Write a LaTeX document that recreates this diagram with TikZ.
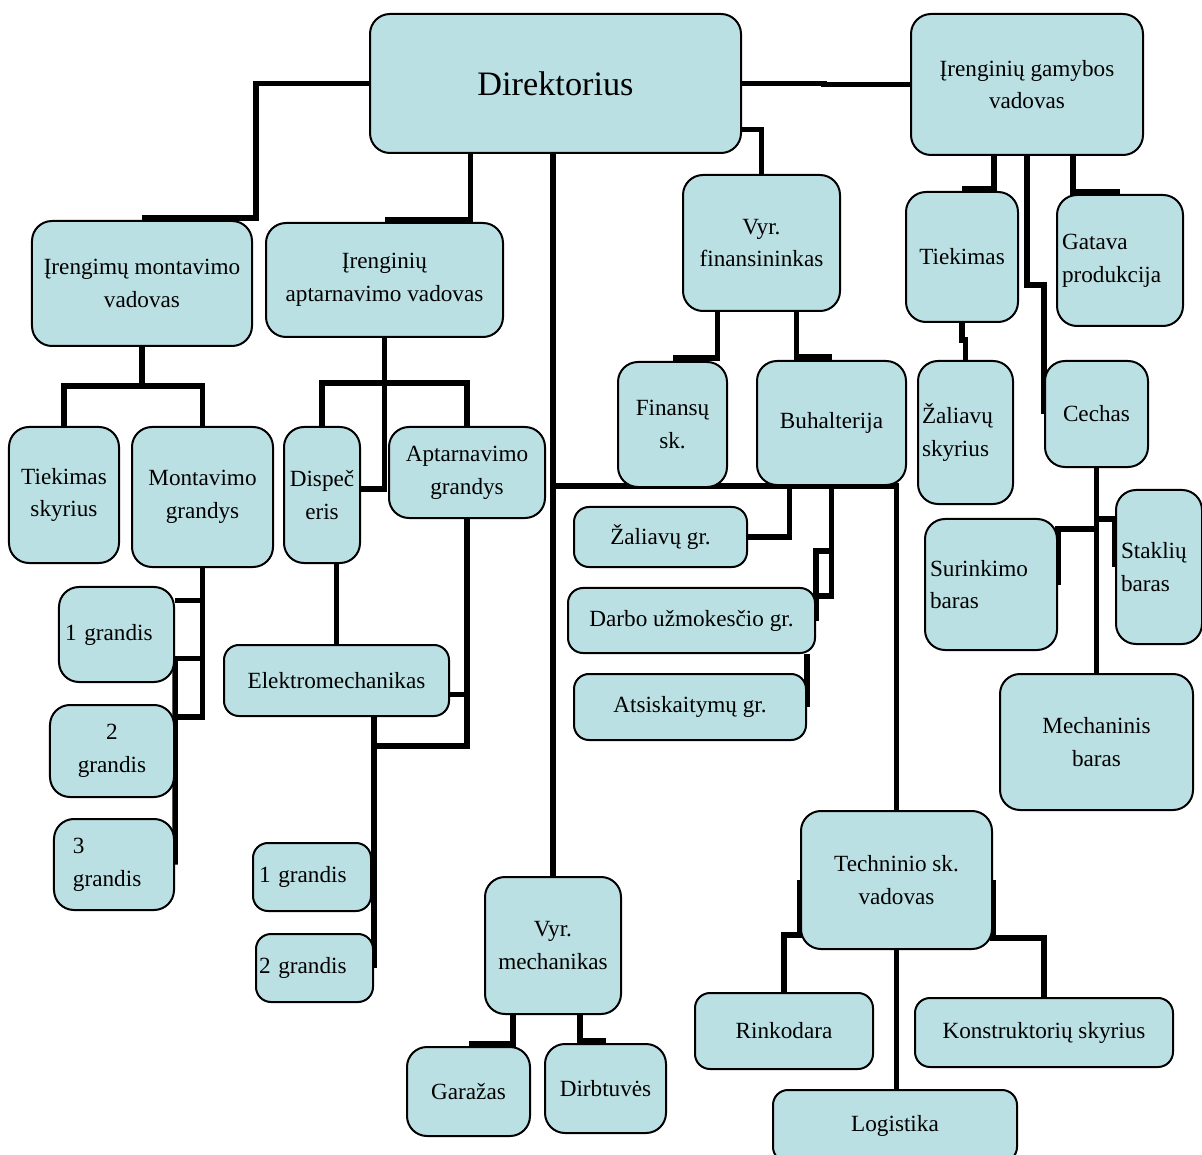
\documentclass[tikz,border=0pt]{standalone}
\usepackage{fontspec}
\setmainfont{Liberation Serif}
\usetikzlibrary{backgrounds}
\definecolor{boxfill}{HTML}{BBE0E3}

\begin{document}
\begin{tikzpicture}[x=0.2mm, y=-0.2mm,
    unit/.style={draw, fill=boxfill, line width=0.4mm, rounded corners=4mm, inner sep=0.6mm, align=center, font=\fontsize{13.2}{18.6}\selectfont},
    link/.style={line width=1.1mm}]
            \useasboundingbox (0,0) rectangle (1202,1155);

            \node[unit, minimum width=74.2mm, minimum height=27.8mm, font=\fontsize{19.5}{23}\selectfont] (dir) at (555.5,83.5) {Direktorius};
            \node[unit, minimum width=46.4mm, minimum height=28.2mm] (gam) at (1027,84.5) {Įrenginių gamybos\\vadovas};
            \node[unit, minimum width=44mm, minimum height=25mm] (mont) at (142,283.5) {Įrengimų montavimo\\vadovas};
            \node[unit, minimum width=47.4mm, minimum height=22.8mm] (apt) at (384.5,280) {Įrenginių\\aptarnavimo vadovas};
            \node[unit, minimum width=31.4mm, minimum height=27.2mm] (fin) at (761.5,243) {Vyr.\\finansininkas};
            \node[unit, minimum width=22.4mm, minimum height=26mm] (tiek2) at (962,257) {Tiekimas};
            \node[unit, minimum width=25.2mm, minimum height=26.2mm, text width=23.2mm, align=left] (gat) at (1120,260.5) {Gatava\\produkcija};

            \node[unit, minimum width=22mm, minimum height=27.2mm] (tsk) at (64,495) {Tiekimas\\skyrius};
            \node[unit, minimum width=28.2mm, minimum height=28mm] (mgr) at (202.5,497) {Montavimo\\grandys};
            \node[unit, minimum width=15.2mm, minimum height=27.2mm] (disp) at (322,495) {Dispeč\\eris};
            \node[unit, minimum width=31.2mm, minimum height=18.2mm] (agr) at (467,472.5) {Aptarnavimo\\grandys};
            \node[unit, minimum width=21.8mm, minimum height=25mm] (finsk) at (672.5,424.5) {Finansų\\sk.};
            \node[unit, minimum width=29.8mm, minimum height=24.8mm] (buh) at (831.5,423) {Buhalterija};
            \node[unit, minimum width=19mm, minimum height=28.6mm, text width=17.4mm, align=left] (zsk) at (965.5,432.5) {Žaliavų\\skyrius};
            \node[unit, minimum width=20.6mm, minimum height=21.2mm] (cech) at (1096.5,414) {Cechas};

            \node[unit, minimum width=34.6mm, minimum height=12mm, rounded corners=3mm] (zgr) at (660.5,537) {Žaliavų gr.};
            \node[unit, minimum width=49.4mm, minimum height=13mm, rounded corners=3mm] (dar) at (691.5,620.5) {Darbo užmokesčio gr.};
            \node[unit, minimum width=46.4mm, minimum height=13.2mm, rounded corners=3mm] (ats) at (690,707) {Atsiskaitymų gr.};
            \node[unit, minimum width=26.4mm, minimum height=26.2mm, text width=24.4mm, align=left] (sur) at (991,584.5) {Surinkimo\\baras};
            \node[unit, minimum width=17.2mm, minimum height=30.8mm, text width=15.2mm, align=left] (stak) at (1159,567) {Staklių\\baras};
            \node[unit, minimum width=38.6mm, minimum height=27.2mm] (mech) at (1096.5,742) {Mechaninis\\baras};

            \node[unit, minimum width=23mm, minimum height=19mm, text width=20.6mm, align=left] (g1) at (116.5,634.5) {1 grandis};
            \node[unit, minimum width=24.8mm, minimum height=18.4mm] (g2) at (112,751) {2\\grandis};
            \node[unit, minimum width=24mm, minimum height=18.2mm, text width=16.4mm, align=left] (g3) at (114,864.5) {3\\grandis};
            \node[unit, minimum width=45mm, minimum height=14.2mm, rounded corners=3mm] (ele) at (336.5,680.5) {Elektromechanikas};
            \node[unit, minimum width=23.6mm, minimum height=13.6mm, rounded corners=3mm, text width=21.2mm, align=left] (a1) at (312,877) {1 grandis};
            \node[unit, minimum width=23.4mm, minimum height=13.6mm, rounded corners=3mm, text width=22.2mm, align=left] (a2) at (314.5,968) {2 grandis};

            \node[unit, minimum width=27.2mm, minimum height=27.4mm] (vmech) at (553,945.5) {Vyr.\\mechanikas};
            \node[unit, minimum width=24.6mm, minimum height=17.8mm] (gar) at (468.5,1091.5) {Garažas};
            \node[unit, minimum width=24.2mm, minimum height=17.8mm] (dirb) at (605.5,1088.5) {Dirbtuvės};
            \node[unit, minimum width=38.2mm, minimum height=27.6mm] (tech) at (896.5,880) {Techninio sk.\\vadovas};
            \node[unit, minimum width=35.6mm, minimum height=15.2mm, rounded corners=3mm] (rink) at (784,1031) {Rinkodara};
            \node[unit, minimum width=51.6mm, minimum height=13.8mm, rounded corners=3mm] (kons) at (1044,1032.5) {Konstruktorių skyrius};
            \node[unit, minimum width=48.8mm, minimum height=14.4mm, rounded corners=3mm] (log) at (895,1126) {Logistika};

            \begin{scope}[on background layer]
            \draw[link] (dir.west) -- ++(-113,0) |- ([yshift=0.4mm]mont.north);
            \draw[link] (dir.south) ++(-85,0) |- ([yshift=0.4mm]apt.north);
            \draw[link] (dir.south -| vmech.north) -- (vmech.north);
            \draw[link] (vmech.north |- buh.south) -| (tech.north);
            \draw[link] (dir.east) ++(0,46) -| (fin.north);
            \draw[link] (dir.east) -- ++(82,0) |- (gam.west);

            \draw[link] (gam.south) ++(-33,0) |- ([yshift=0.4mm]tiek2.north);
            \draw[link] (gam.south) ++(46,0) |- ([yshift=0.4mm]gat.north);
            \draw[link] (gam.south) -- ++(0,129) -| (cech.west);
            \draw[link] (tiek2.south) -- ++(0,17) -| (zsk.north);

            \draw[link] (mont.south) -- ++(0,39) -| (tsk.north);
            \draw[link] (mont.south) ++(0,39) -| (mgr.north);
            \draw[link] (mgr.south) -- ++(0,149) -- ++(-28,0);
            \draw[link] (g1.east) ++(0,-34) -| (mgr.south);
            \draw[link] (g1.east) ++(0,24) -| (mgr.south);
            \draw[link] (g1.east) ++(0,24) -- (g3.east);

            \draw[link] (apt.south) -- ++(0,45) -| (disp.north);
            \draw[link] (apt.south) ++(0,45) -| (agr.north);
            \draw[link] (apt.south) |- ([yshift=1.2mm]disp.east);
            \draw[link] (disp.south -| ele.north) -- (ele.north);
            \draw[link] (agr.south) -- ++(0,227) -| (a2.east);
            \draw[link] (ele.south -| a2.east) -- (a2.east);
            \draw[link] (ele.east) ++(0,14) -| (agr.south);

            \draw[link] (fin.south) ++(-44,0) |- ([yshift=0.6mm]finsk.north);
            \draw[link] (fin.south) ++(35,0) |- ([yshift=0.6mm]buh.north);
            \draw[link] (buh.south) ++(-42,0) |- (zgr.east);
            \draw[link] (buh.south) -- ++(0,110) -- ++(-17,0);
            \draw[link] (buh.south) ++(0,65) -| (dar.east);
            \draw[link] (dar.south -| ats.east) -- (ats.east);

            \draw[link] (cech.south) -- ++(0,61) -| (sur.east);
            \draw[link] (cech.south) ++(0,51) -| (stak.west);
            \draw[link] (cech.south) -- (mech.north);

            \draw[link] (tech.west) -- ++(0,55) -| (rink.north);
            \draw[link] (tech.east) -- ++(0,58) -| (kons.north);
            \draw[link] (tech.south) -- (tech.south |- log.north);

            \draw[link] (vmech.south) ++(-40,0) |- ([yshift=0.4mm]gar.north);
            \draw[link] (vmech.south) ++(27,0) |- ([yshift=0.4mm]dirb.north);
            \end{scope}
        \end{tikzpicture}
\end{document}
